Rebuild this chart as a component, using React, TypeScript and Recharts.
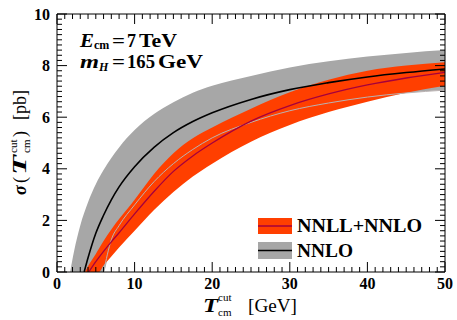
import React from 'react';
import { ComposedChart, Area, Line, XAxis, YAxis } from 'recharts';

// ---- data ----
// NNLO band (gray): upper edge and lower edge (null where below the axis)
const nnloTau = [1.7, 2.2, 3, 4, 5, 6, 7, 8, 10, 12.5, 15, 17.5, 20, 25, 30, 35, 40, 45, 50];
const nnloUpper = [0, 0.8, 1.8, 2.7, 3.4, 3.95, 4.42, 4.83, 5.5, 6.12, 6.58, 6.95, 7.22, 7.6, 7.93, 8.17, 8.35, 8.49, 8.6];
const nnloLower: (number | null)[] = [null, null, null, null, null, 0, 1.25, 1.8, 2.6, 3.5, 4.2, 4.75, 5.2, 5.8, 6.25, 6.55, 6.78, 6.94, 7.05];

// NNLO central value (black)
const nnloCentralTau = [3.5, 4, 5, 6, 7, 8, 10, 12.5, 15, 17.5, 20, 25, 30, 35, 40, 45, 50];
const nnloCentral = [0, 0.55, 1.5, 2.2, 2.8, 3.3, 4.08, 4.83, 5.4, 5.83, 6.17, 6.69, 7.07, 7.34, 7.56, 7.73, 7.87];

// NNLL+NNLO band (red)
const resTau = [3.6, 4, 5, 5.4, 6, 7, 8, 10, 12.5, 15, 17.5, 20, 25, 30, 35, 40, 45, 50];
const resUpper = [0, 0.22, 0.7, 0.9, 1.2, 1.65, 2.05, 2.8, 3.8, 4.6, 5.18, 5.6, 6.33, 6.97, 7.45, 7.8, 8.0, 8.13];
const resLower = [0, 0, 0, 0, 0.25, 0.6, 0.95, 1.6, 2.4, 3.1, 3.7, 4.2, 5.05, 5.7, 6.2, 6.6, 6.95, 7.22];

// NNLL+NNLO central value (crimson)
const resCentralTau = [4.1, 5, 6, 7, 8, 10, 12.5, 15, 17.5, 20, 25, 30, 35, 40, 45, 50];
const resCentral = [0, 0.4, 0.8, 1.17, 1.52, 2.25, 3.12, 3.9, 4.5, 5.0, 5.85, 6.45, 6.9, 7.25, 7.52, 7.74];

const xMajorTicks = [0, 10, 20, 30, 40, 50];
const yMajorTicks = [0, 2, 4, 6, 8, 10];
const xMinorStep = 1;
const yMinorStep = 0.2;

const legendLabels = ['NNLL+NNLO', 'NNLO'];

// ---- tables built from the arrays ----
const nnloBand = nnloTau.map((x, i) => ({ x, range: [nnloLower[i] ?? 0, nnloUpper[i]] }));
const nnloLowerLine = nnloTau
  .map((x, i) => ({ x, y: nnloLower[i] }))
  .filter((d) => d.y !== null);
const nnloCentralLine = nnloCentralTau.map((x, i) => ({ x, y: nnloCentral[i] }));
const resBand = resTau.map((x, i) => ({ x, range: [resLower[i], resUpper[i]] }));
const resCentralLine = resCentralTau.map((x, i) => ({ x, y: resCentral[i] }));

const xTicks = Array.from({ length: 51 }, (_, i) => +(i * xMinorStep).toFixed(1));
const yTicks = Array.from({ length: 51 }, (_, i) => +(i * yMinorStep).toFixed(1));

const isMajor = (v: number, list: number[]) => list.some((m) => Math.abs(m - v) < 1e-6);

// ---- styling ----
const W = 457;
const H = 320;
const FONT = "'Liberation Serif', serif";
const GRAY = '#a7a7a7';
const RED = '#ff3f00';
const CRIMSON = '#a6003c';
const GRAYLINE = '#bab2b2';
const MAJ = 10;
const MIN = 5;

const XTickBottom = (props: any) => {
  const { x, y, payload } = props;
  const major = isMajor(payload.value, xMajorTicks);
  return (
    <g>
      <line x1={x} x2={x} y1={y} y2={y - (major ? MAJ : MIN)} stroke="#000" strokeWidth={1} />
      {major && (
        <text x={x} y={y + 17} textAnchor="middle" fontFamily={FONT} fontWeight="bold" fontSize={16} fill="#000">
          {payload.value}
        </text>
      )}
    </g>
  );
};

const XTickTop = (props: any) => {
  const { x, y, payload } = props;
  const major = isMajor(payload.value, xMajorTicks);
  return <line x1={x} x2={x} y1={y} y2={y + (major ? MAJ : MIN)} stroke="#000" strokeWidth={1} />;
};

const YTickLeft = (props: any) => {
  const { x, y, payload } = props;
  const major = isMajor(payload.value, yMajorTicks);
  return (
    <g>
      <line x1={x} x2={x + (major ? MAJ : MIN)} y1={y} y2={y} stroke="#000" strokeWidth={1} />
      {major && (
        <text x={x - 7} y={y + 5.5} textAnchor="end" fontFamily={FONT} fontWeight="bold" fontSize={16} fill="#000">
          {payload.value}
        </text>
      )}
    </g>
  );
};

const YTickRight = (props: any) => {
  const { x, y, payload } = props;
  const major = isMajor(payload.value, yMajorTicks);
  return <line x1={x} x2={x - (major ? MAJ : MIN)} y1={y} y2={y} stroke="#000" strokeWidth={1} />;
};

export default function App() {
  return (
    <div style={{ position: 'fixed', left: 0, top: 0, width: W, height: H, background: '#fff' }}>
      <ComposedChart width={W} height={H} margin={{ top: 13, right: 11, bottom: 47, left: 56 }}>
        <XAxis
          xAxisId="b"
          dataKey="x"
          type="number"
          domain={[0, 50]}
          allowDataOverflow
          ticks={xTicks}
          interval={0}
          height={1}
          tickSize={0}
          tickMargin={0}
          tick={<XTickBottom />}
          stroke="#000"
        />
        <XAxis
          xAxisId="t"
          orientation="top"
          dataKey="x"
          type="number"
          domain={[0, 50]}
          allowDataOverflow
          ticks={xTicks}
          interval={0}
          height={1}
          tickSize={0}
          tickMargin={0}
          tick={<XTickTop />}
          stroke="#000"
        />
        <YAxis
          yAxisId="l"
          type="number"
          domain={[0, 10]}
          allowDataOverflow
          ticks={yTicks}
          interval={0}
          width={1}
          tickSize={0}
          tickMargin={0}
          tick={<YTickLeft />}
          stroke="#000"
        />
        <YAxis
          yAxisId="r"
          orientation="right"
          type="number"
          domain={[0, 10]}
          allowDataOverflow
          ticks={yTicks}
          interval={0}
          width={1}
          tickSize={0}
          tickMargin={0}
          tick={<YTickRight />}
          stroke="#000"
        />
        <Area
          xAxisId="b"
          yAxisId="l"
          data={nnloBand}
          dataKey="range"
          type="monotone"
          stroke="none"
          fill={GRAY}
          fillOpacity={1}
          isAnimationActive={false}
        />
        <Area
          xAxisId="b"
          yAxisId="l"
          data={resBand}
          dataKey="range"
          type="monotone"
          stroke="none"
          fill={RED}
          fillOpacity={1}
          isAnimationActive={false}
        />
        <Line
          xAxisId="b"
          yAxisId="l"
          data={nnloLowerLine}
          dataKey="y"
          type="monotone"
          stroke={GRAYLINE}
          strokeWidth={1}
          dot={false}
          isAnimationActive={false}
        />
        <Line
          xAxisId="b"
          yAxisId="l"
          data={nnloCentralLine}
          dataKey="y"
          type="monotone"
          stroke="#000"
          strokeWidth={1.6}
          dot={false}
          isAnimationActive={false}
        />
        <Line
          xAxisId="b"
          yAxisId="l"
          data={resCentralLine}
          dataKey="y"
          type="monotone"
          stroke={CRIMSON}
          strokeWidth={1.3}
          dot={false}
          isAnimationActive={false}
        />
      </ComposedChart>
      <svg
        width={W}
        height={H}
        style={{ position: 'absolute', left: 0, top: 0, pointerEvents: 'none' }}
        fontFamily={FONT}
        fill="#000"
      >
        {/* annotations */}
        <text x={80} y={46.5} fontSize={19} fontWeight="bold" fontStyle="italic" textLength={14} lengthAdjust="spacingAndGlyphs">E</text>
        <text x={94} y={49} fontSize={12} fontWeight="bold">cm</text>
        <text x={112} y={46.5} fontSize={18} fontWeight="bold" textLength={13} lengthAdjust="spacingAndGlyphs">=</text>
        <text x={127} y={46.5} fontSize={18} fontWeight="bold">7</text>
        <text x={139} y={46.5} fontSize={18} fontWeight="bold" textLength={38} lengthAdjust="spacingAndGlyphs">TeV</text>

        <text x={80} y={67.5} fontSize={19} fontWeight="bold" fontStyle="italic" textLength={19} lengthAdjust="spacingAndGlyphs">m</text>
        <text x={99} y={71} fontSize={12} fontWeight="bold" fontStyle="italic">H</text>
        <text x={112} y={67.5} fontSize={18} fontWeight="bold" textLength={13} lengthAdjust="spacingAndGlyphs">=</text>
        <text x={127} y={67.5} fontSize={18} fontWeight="bold" textLength={28} lengthAdjust="spacingAndGlyphs">165</text>
        <text x={158} y={67.5} fontSize={18} fontWeight="bold" textLength={45} lengthAdjust="spacingAndGlyphs">GeV</text>

        {/* legend */}
        <rect x={258} y={218} width={34} height={16} fill={RED} />
        <line x1={258} x2={292} y1={226} y2={226} stroke={CRIMSON} strokeWidth={1.3} />
        <text x={297} y={232} fontSize={18} fontWeight="bold" textLength={125} lengthAdjust="spacingAndGlyphs">{legendLabels[0]}</text>
        <rect x={258} y={242} width={34} height={17} fill={GRAY} />
        <line x1={258} x2={292} y1={250.5} y2={250.5} stroke="#000" strokeWidth={1.6} />
        <text x={297} y={257} fontSize={18} fontWeight="bold" textLength={56} lengthAdjust="spacingAndGlyphs">{legendLabels[1]}</text>

        {/* x title */}
        <text x={203} y={312} fontSize={18} fontWeight="bold" fontStyle="italic" textLength={15} lengthAdjust="spacingAndGlyphs">T</text>
        <text x={218} y={301} fontSize={11}>cut</text>
        <text x={218} y={316} fontSize={11}>cm</text>
        <text x={248} y={312} fontSize={18} textLength={49} lengthAdjust="spacingAndGlyphs">[GeV]</text>

        {/* y title */}
        <g transform="translate(26,197) rotate(-90)">
          <text x={2} y={0} fontSize={18} fontWeight="bold" fontStyle="italic">σ</text>
          <text x={14} y={0} fontSize={18}>(</text>
          <text x={22} y={0} fontSize={18} fontWeight="bold" fontStyle="italic" textLength={20} lengthAdjust="spacingAndGlyphs">T</text>
          <text x={44} y={-9} fontSize={11}>cut</text>
          <text x={44} y={4} fontSize={11}>cm</text>
          <text x={60} y={0} fontSize={18}>)</text>
          <text x={77} y={0} fontSize={18} textLength={30} lengthAdjust="spacingAndGlyphs">[pb]</text>
        </g>
      </svg>
    </div>
  );
}
